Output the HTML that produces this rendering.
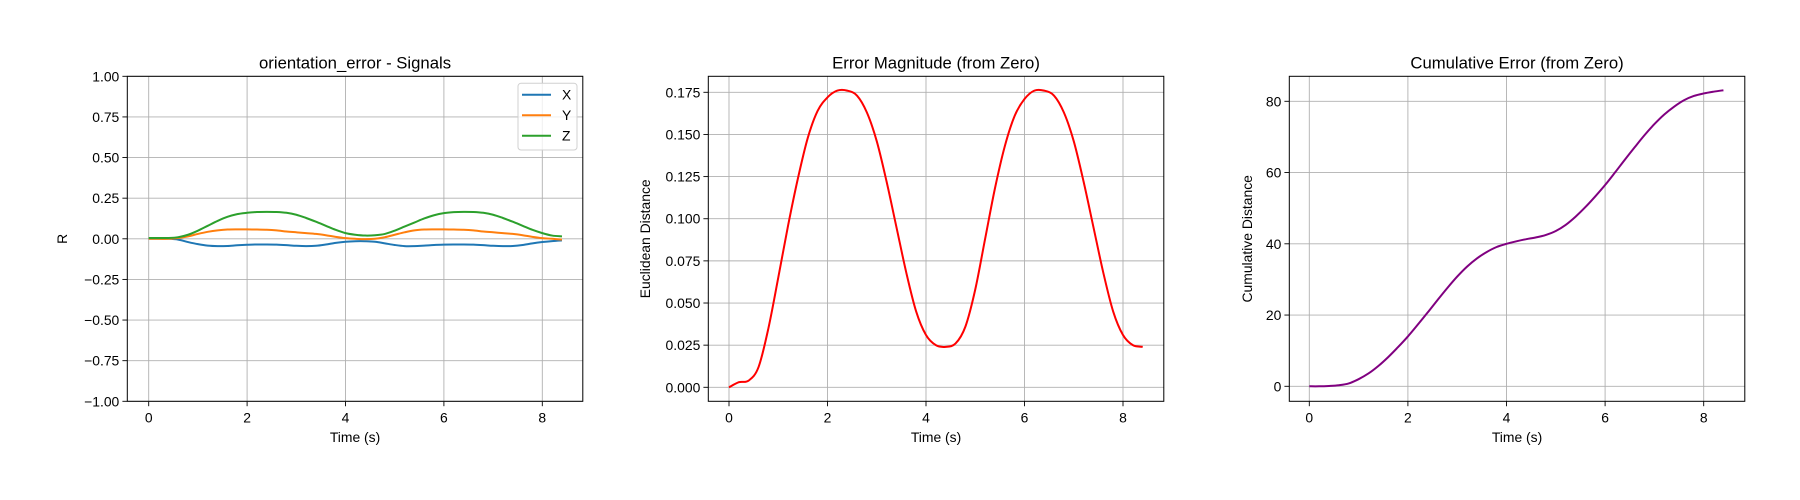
<!DOCTYPE html>
<html><head><meta charset="utf-8"><style>
html,body{margin:0;padding:0;background:#fff;}
svg{display:block;font-family:"Liberation Sans","DejaVu Sans",sans-serif;}
</style></head><body>
<svg id="fig" width="1800" height="500" viewBox="0 0 1800 500"></svg>
<script>
const times = [0,0.2,0.4,0.6,0.8,1.0,1.2,1.4,1.6,1.8,2.0,2.2,2.4,2.6,2.8,3.0,3.2,3.4,3.6,3.8,4.0,4.2,4.4,4.6,4.8,5.0,5.2,5.4,5.6,5.8,6.0,6.2,6.4,6.6,6.8,7.0,7.2,7.4,7.6,7.8,8.0,8.2,8.4];
const sigX = [0,0,0,-0.005,-0.02,-0.033,-0.042,-0.045,-0.044,-0.04,-0.037,-0.035,-0.035,-0.036,-0.039,-0.043,-0.045,-0.043,-0.035,-0.025,-0.018,-0.015,-0.015,-0.018,-0.028,-0.038,-0.045,-0.045,-0.042,-0.038,-0.036,-0.035,-0.035,-0.036,-0.039,-0.043,-0.045,-0.044,-0.038,-0.028,-0.02,-0.014,-0.01];
const sigY = [0,0,0,0.005,0.015,0.03,0.043,0.052,0.057,0.058,0.058,0.057,0.056,0.052,0.045,0.04,0.035,0.03,0.022,0.012,0.004,0,-0.002,0,0.01,0.025,0.04,0.052,0.057,0.058,0.058,0.057,0.056,0.052,0.045,0.04,0.035,0.03,0.022,0.012,0.004,0,-0.005];
const sigZ = [0.005,0.005,0.005,0.01,0.025,0.05,0.08,0.11,0.135,0.152,0.16,0.165,0.166,0.165,0.16,0.148,0.128,0.105,0.08,0.055,0.035,0.025,0.02,0.022,0.03,0.05,0.075,0.1,0.125,0.145,0.158,0.164,0.166,0.165,0.16,0.148,0.128,0.105,0.08,0.055,0.035,0.02,0.015];
const magnitude = [0,0.003,0.004,0.012,0.035,0.065,0.096,0.124,0.148,0.164,0.172,0.176,0.176,0.173,0.163,0.146,0.122,0.095,0.068,0.045,0.031,0.025,0.024,0.026,0.036,0.058,0.088,0.118,0.143,0.161,0.171,0.176,0.176,0.173,0.163,0.146,0.122,0.095,0.068,0.045,0.031,0.025,0.024];
const cumulative = [0,0,0.1,0.3,0.8,2,3.6,5.7,8.2,11,14,17.3,20.7,24.2,27.6,30.8,33.6,35.9,37.7,39.1,40,40.7,41.3,41.8,42.5,43.6,45.3,47.6,50.3,53.3,56.5,60,63.6,67.1,70.5,73.6,76.3,78.5,80.3,81.5,82.2,82.7,83.1];
const xTicks = [0,2,4,6,8];
const yTicks1 = [-1,-0.75,-0.5,-0.25,0,0.25,0.5,0.75,1];
const yTicks2 = [0,0.025,0.05,0.075,0.1,0.125,0.15,0.175];
const yTicks3 = [0,20,40,60,80];

const NS = "http://www.w3.org/2000/svg";
const fig = document.getElementById('fig');
function mk(tag, attrs, parent, text){
  const e = document.createElementNS(NS, tag);
  for (const k in attrs) e.setAttribute(k, attrs[k]);
  if (text !== undefined) e.textContent = text;
  (parent||fig).appendChild(e);
  return e;
}
function fmt(v, d){ const s = Math.abs(v).toFixed(d); return (v < 0 ? '\u2212' : '') + s; }
function smoothPath(P){
  let d = 'M' + P[0][0].toFixed(2) + ',' + P[0][1].toFixed(2);
  for (let i = 0; i < P.length - 1; i++){
    const p0 = P[Math.max(0,i-1)], p1 = P[i], p2 = P[i+1], p3 = P[Math.min(P.length-1,i+2)];
    const c1x = p1[0] + (p2[0]-p0[0])/6, c1y = p1[1] + (p2[1]-p0[1])/6;
    const c2x = p2[0] - (p3[0]-p1[0])/6, c2y = p2[1] - (p3[1]-p1[1])/6;
    d += ' C' + c1x.toFixed(2) + ',' + c1y.toFixed(2) + ' ' + c2x.toFixed(2) + ',' + c2y.toFixed(2) + ' ' + p2[0].toFixed(2) + ',' + p2[1].toFixed(2);
  }
  return d;
}

function panel(cfg){
  const g = mk('g', {});
  
  
  const L = cfg.left, R = cfg.left + 455.5, T = 76.3, B = 401.3;
  const sx = v => cfg.x0px + v * (cfg.x8px - cfg.x0px) / 8;
  const sy = v => cfg.ya[1] + (v - cfg.ya[0]) * (cfg.yb[1] - cfg.ya[1]) / (cfg.yb[0] - cfg.ya[0]);
  xTicks.forEach(t => {
    const l = mk('line', {x1:sx(t), x2:sx(t), y1:T, y2:B, stroke:'#b0b0b0', 'stroke-width':0.9}, g);
    
    
    mk('line', {x1:sx(t), x2:sx(t), y1:B, y2:B+4.9, stroke:'#000', 'stroke-width':0.9}, g);
    const tx = mk('text', {x:sx(t), y:B+21, 'font-size':13.9, 'text-anchor':'middle', fill:'#000'}, g, String(t));
    
    
  });
  cfg.yTicks.forEach(t => {
    const y = sy(t);
    const l = mk('line', {x1:L, x2:R, y1:y, y2:y, stroke:'#b0b0b0', 'stroke-width':0.9}, g);
    
    
    mk('line', {x1:L-4.9, x2:L, y1:y, y2:y, stroke:'#000', 'stroke-width':0.9}, g);
    const tx = mk('text', {x:L-8, y:y+5, 'font-size':13.9, 'text-anchor':'end', fill:'#000'}, g, fmt(t, cfg.dec));
    
    
  });
  cfg.series.forEach(s => {
    const P = times.map((t,i) => [sx(t), sy(s.vals[i])]);
    const p = mk('path', {d:smoothPath(P), fill:'none', stroke:s.color, 'stroke-width':2, 'stroke-linejoin':'round'}, g);
    
    
  });
  const fr = mk('rect', {x:L, y:T, width:R-L, height:B-T, fill:'none', stroke:'#000', 'stroke-width':1}, g);
  
  
  const ti = mk('text', {x:(L+R)/2, y:68.5, 'font-size':16.7, 'text-anchor':'middle', fill:'#000'}, g, cfg.title);
  
  
  const xl = mk('text', {x:(L+R)/2, y:442, 'font-size':13.9, 'text-anchor':'middle', fill:'#000'}, g, 'Time (s)');
  
  
  const yx = cfg.ylx, yy = (T+B)/2;
  const yl = mk('text', {x:yx, y:yy, 'font-size':13.9, 'text-anchor':'middle', fill:'#000', transform:`rotate(-90 ${yx} ${yy})`}, g, cfg.ylabel);
  
  
}

panel({name:'signals-panel', left:127.3, x0px:148.7, x8px:542.3, ya:[1,76.3], yb:[-1,401.3], yTicks:yTicks1, dec:2,
  title:'orientation_error - Signals', ylabel:'R', ylx:67,
  series:[{name:'line-x', vals:sigX, color:'#1f77b4'},{name:'line-y', vals:sigY, color:'#ff7f0e'},{name:'line-z', vals:sigZ, color:'#2ca02c'}]});
panel({name:'magnitude-panel', left:708.3, x0px:729, x8px:1123, ya:[0,387.3], yb:[0.175,92.3], yTicks:yTicks2, dec:3,
  title:'Error Magnitude (from Zero)', ylabel:'Euclidean Distance', ylx:650,
  series:[{name:'line-magnitude', vals:magnitude, color:'#ff0000'}]});
panel({name:'cumulative-panel', left:1289.3, x0px:1309.3, x8px:1703.7, ya:[0,386.3], yb:[80,101.3], yTicks:yTicks3, dec:0,
  title:'Cumulative Error (from Zero)', ylabel:'Cumulative Distance', ylx:1252,
  series:[{name:'line-cumulative', vals:cumulative, color:'#800080'}]});

const lg = mk('g', {});


mk('rect', {x:518, y:83.3, width:59, height:66.7, rx:3, fill:'#fff', 'fill-opacity':0.8, stroke:'#d0d0d0', 'stroke-width':1}, lg);
[['X','#1f77b4'],['Y','#ff7f0e'],['Z','#2ca02c']].forEach((e,i) => {
  const eg = mk('g', {}, lg);
  
  
  const y = 94.7 + i * 20.5;
  mk('line', {x1:522, x2:551, y1:y, y2:y, stroke:e[1], 'stroke-width':2}, eg);
  mk('text', {x:562, y:y+5, 'font-size':13.9, fill:'#000'}, eg, e[0]);
});
</script>
</body></html>
